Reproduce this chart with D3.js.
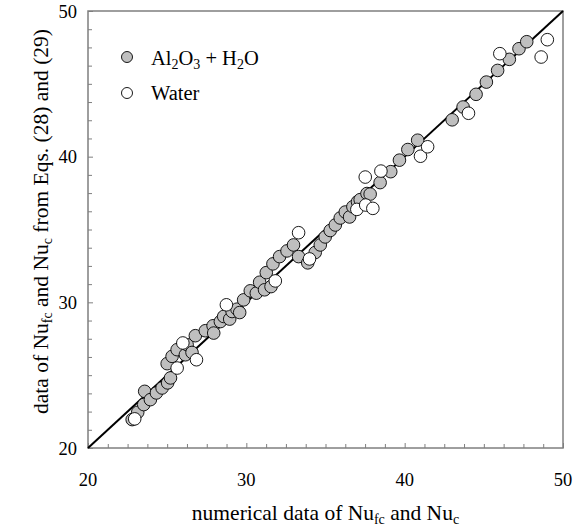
<!DOCTYPE html>
<html>
<head>
<meta charset="utf-8">
<script src="https://cdn.jsdelivr.net/npm/d3@7"></script>
<style>
  body { margin: 0; background: #fff; }
  svg text { font-family: "Liberation Serif", "DejaVu Serif", serif; fill: #000; }
</style>
</head>
<body>
<div id="chart"></div>
<script>
// Al2O3 + H2O points: numerical Nu (x) vs correlation Nu (y)
const nanoX = [22.79, 23.14, 23.52, 23.58, 23.94, 24.32, 24.68, 25.03, 25.21, 25.00,
  25.31, 25.63, 26.15, 26.26, 26.57, 26.78, 27.41, 27.90, 27.94, 28.36,
  28.57, 28.95, 29.10, 29.41, 29.58, 29.83, 30.25, 30.63, 30.84, 31.15,
  31.26, 31.56, 31.68, 32.10, 32.57, 32.98, 33.30, 33.88, 34.35, 34.67,
  34.98, 35.30, 35.62, 35.93, 36.25, 36.52, 36.73, 37.02, 37.19, 37.62,
  37.82, 38.45, 39.12, 39.67, 40.20, 40.82, 43.00, 43.69, 44.51, 45.16,
  45.87, 46.61, 47.22, 47.71];
const nanoY = [21.95, 22.45, 22.98, 23.89, 23.32, 23.78, 24.12, 24.47, 24.81, 25.79,
  26.29, 26.75, 26.40, 27.09, 26.56, 27.71, 28.05, 28.39, 27.89, 28.68,
  29.03, 28.85, 29.37, 29.53, 29.30, 30.17, 30.79, 30.63, 31.38, 30.86,
  32.04, 31.08, 32.64, 33.14, 33.53, 33.94, 33.14, 32.71, 33.42, 33.94,
  34.49, 34.93, 35.31, 35.79, 36.20, 35.86, 36.56, 36.90, 37.05, 37.47,
  37.43, 38.22, 38.97, 39.76, 40.49, 41.13, 42.53, 43.41, 44.28, 45.12,
  45.92, 46.68, 47.41, 47.89];

// Water points
const waterX = [22.95, 25.63, 25.99, 26.85, 28.74, 31.83, 33.30, 33.99, 36.98, 37.54,
  37.99, 37.51, 38.50, 41.00, 41.45, 44.03, 46.01, 48.62, 49.01];
const waterY = [22.00, 25.49, 27.21, 26.06, 29.83, 31.47, 34.78, 32.98, 36.38, 36.68,
  36.45, 38.60, 39.01, 40.03, 40.68, 42.98, 47.07, 46.84, 48.03];

const axisMin = 20, axisMax = 50;
const majorTicks = [20, 30, 40, 50];
const minorStep = 1.25;

const width = 586, height = 527;
const margin = {top: 11, right: 23, bottom: 79, left: 88};

const svg = d3.select("#chart")
  .append("svg")
  .attr("width", width)
  .attr("height", height);

const xScale = d3.scaleLinear()
  .domain([axisMin, axisMax])
  .range([margin.left, width - margin.right]);

const yScale = d3.scaleLinear()
  .domain([axisMin, axisMax])
  .range([height - margin.bottom, margin.top]);

const allTicks = d3.range(axisMin, axisMax + 0.001, minorStep);
const frameColor = "#7f7f7f";

// inward ticks, labels drawn separately
const xAxis = d3.axisBottom(xScale)
  .tickValues(allTicks)
  .tickSize(0)
  .tickFormat("");

svg.append("g")
  .attr("transform", `translate(0, ${yScale(axisMin)})`)
  .call(xAxis)
  .call(g => g.select(".domain").remove())
  .call(g => g.selectAll(".tick line")
    .attr("y2", d => majorTicks.includes(d) ? -5 : -4)
    .attr("stroke", frameColor));

const yAxis = d3.axisLeft(yScale)
  .tickValues(allTicks)
  .tickSize(0)
  .tickFormat("");

svg.append("g")
  .attr("transform", `translate(${xScale(axisMin)}, 0)`)
  .call(yAxis)
  .call(g => g.select(".domain").remove())
  .call(g => g.selectAll(".tick line")
    .attr("x2", d => majorTicks.includes(d) ? 5 : 4)
    .attr("stroke", frameColor));

// tick labels
svg.append("g").selectAll("text")
  .data(majorTicks)
  .enter()
  .append("text")
  .attr("x", d => xScale(d))
  .attr("y", yScale(axisMin) + 38)
  .attr("text-anchor", "middle")
  .style("font-size", "18.5px")
  .text(d => d);

svg.append("g").selectAll("text")
  .data(majorTicks)
  .enter()
  .append("text")
  .attr("x", xScale(axisMin) - 11)
  .attr("y", d => yScale(d) + 6.5)
  .attr("text-anchor", "end")
  .style("font-size", "18.5px")
  .text(d => d);

// frame
svg.append("rect")
  .attr("x", xScale(axisMin))
  .attr("y", yScale(axisMax))
  .attr("width", xScale(axisMax) - xScale(axisMin))
  .attr("height", yScale(axisMin) - yScale(axisMax))
  .attr("fill", "none")
  .attr("stroke", frameColor)
  .attr("stroke-width", 1.5);

// y = x line
svg.append("line")
  .attr("x1", xScale(axisMin))
  .attr("y1", yScale(axisMin))
  .attr("x2", xScale(axisMax))
  .attr("y2", yScale(axisMax))
  .attr("stroke", "#000")
  .attr("stroke-width", 2);

const nano = nanoX.map((x, i) => ({x: x, y: nanoY[i]}));
const water = waterX.map((x, i) => ({x: x, y: waterY[i]}));

svg.append("g").selectAll("circle")
  .data(nano)
  .enter()
  .append("circle")
  .attr("cx", d => xScale(d.x))
  .attr("cy", d => yScale(d.y))
  .attr("r", 6.3)
  .attr("fill", "#bfbfbf")
  .attr("stroke", "#000")
  .attr("stroke-width", 0.9);

svg.append("g").selectAll("circle")
  .data(water)
  .enter()
  .append("circle")
  .attr("cx", d => xScale(d.x))
  .attr("cy", d => yScale(d.y))
  .attr("r", 6.3)
  .attr("fill", "#fff")
  .attr("stroke", "#000")
  .attr("stroke-width", 0.9);

// legend
const legend = svg.append("g");
legend.append("circle")
  .attr("cx", 127).attr("cy", 57).attr("r", 5.5)
  .attr("fill", "#bfbfbf").attr("stroke", "#000").attr("stroke-width", 0.9);
legend.append("circle")
  .attr("cx", 127).attr("cy", 93).attr("r", 5.5)
  .attr("fill", "#fff").attr("stroke", "#000").attr("stroke-width", 0.9);

const t1 = legend.append("text").attr("x", 151).attr("y", 65).style("font-size", "20.5px");
t1.append("tspan").text("Al");
t1.append("tspan").attr("dy", 4).style("font-size", "14px").text("2");
t1.append("tspan").attr("dy", -4).text("O");
t1.append("tspan").attr("dy", 4).style("font-size", "14px").text("3");
t1.append("tspan").attr("dy", -4).text(" + H");
t1.append("tspan").attr("dy", 4).style("font-size", "14px").text("2");
t1.append("tspan").attr("dy", -4).text("O");

legend.append("text").attr("x", 151).attr("y", 100).style("font-size", "20.5px").text("Water");

// axis titles
const xt = svg.append("text")
  .attr("x", (xScale(axisMin) + xScale(axisMax)) / 2)
  .attr("y", 520)
  .attr("text-anchor", "middle")
  .style("font-size", "21.5px");
xt.append("tspan").text("numerical data of Nu");
xt.append("tspan").attr("dy", 4).style("font-size", "14px").text("fc");
xt.append("tspan").attr("dy", -4).text(" and Nu");
xt.append("tspan").attr("dy", 4).style("font-size", "14px").text("c");

const yt = svg.append("text")
  .attr("transform", `translate(48, ${(yScale(axisMin) + yScale(axisMax)) / 2 - 8}) rotate(-90)`)
  .attr("text-anchor", "middle")
  .style("font-size", "21.5px");
yt.append("tspan").text("data of  Nu");
yt.append("tspan").attr("dy", 4).style("font-size", "14px").text("fc");
yt.append("tspan").attr("dy", -4).text(" and Nu");
yt.append("tspan").attr("dy", 4).style("font-size", "14px").text("c");
yt.append("tspan").attr("dy", -4).text(" from Eqs. (28) and (29)");
</script>
</body>
</html>
